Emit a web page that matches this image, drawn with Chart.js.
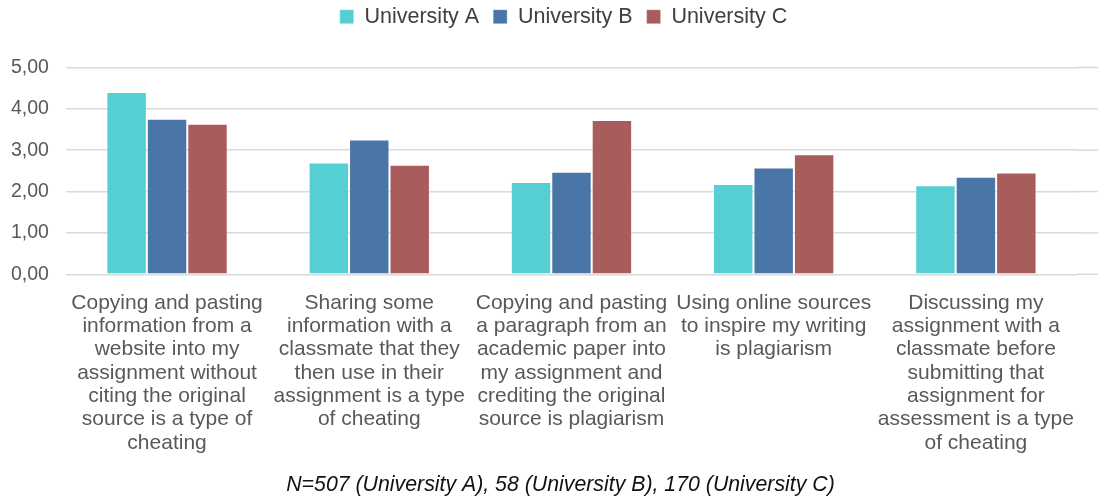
<!DOCTYPE html>
<html>
<head>
<meta charset="utf-8">
<script src="https://cdn.jsdelivr.net/npm/chart.js@4"></script>
<style>
html,body{margin:0;padding:0;background:#fff;}
#wrap{width:1100px;height:502px;position:relative;}
</style>
</head>
<body>
<div id="wrap"><canvas id="c"></canvas></div>
<script>
const categories = [
  ["Copying and pasting","information from a","website into my","assignment without","citing the original","source is a type of","cheating"],
  ["Sharing some","information with a","classmate that they","then use in their","assignment is a type","of cheating"],
  ["Copying and pasting","a paragraph from an","academic paper into","my assignment and","crediting the original","source is plagiarism"],
  ["Using online sources","to inspire my writing","is plagiarism"],
  ["Discussing my","assignment with a","classmate before","submitting that","assignment for","assessment is a type","of cheating"]
];
const seriesNames = ["University A","University B","University C"];
const universityA = [4.41, 2.70, 2.23, 2.18, 2.15];
const universityB = [3.76, 3.26, 2.48, 2.58, 2.36];
const universityC = [3.64, 2.65, 3.73, 2.90, 2.46];
const yTickValues = [0, 1, 2, 3, 4, 5];
const footnote = "N=507 (University A), 58 (University B), 170 (University C)";

const colors = ["#56CFD4", "#4A75A7", "#A95C5C"];
const FONT = "'Liberation Sans', Arial, sans-serif";

const extendGrid = {
  id: 'extendGrid',
  beforeDatasetsDraw(chart) {
    const y = chart.scales.y, ca = chart.chartArea, ctx = chart.ctx;
    ctx.save();
    ctx.strokeStyle = '#d9d9d9';
    ctx.lineWidth = 1.5;
    y.ticks.forEach(t => {
      const py = y.getPixelForValue(t.value);
      ctx.beginPath();
      ctx.moveTo(ca.right, py);
      ctx.lineTo(1098, py);
      ctx.stroke();
    });
    ctx.restore();
  }
};

function shiftBox(box, dx) {
  const draw = box.draw.bind(box);
  box.draw = function () {
    const ctx = this.ctx;
    ctx.save();
    ctx.translate(dx, 0);
    draw();
    ctx.restore();
  };
}

// legend spacing: extra gap below legend; legend and footnote offset like the original
const boxTweak = {
  id: 'boxTweak',
  beforeUpdate(chart) {
    const lg = chart.legend;
    if (lg && !lg._tweaked) {
      lg._tweaked = true;
      const fit = lg.fit.bind(lg);
      lg.fit = function () { fit(); this.height += 30; };
      shiftBox(lg, 28);
    }
    const tb = chart.titleBlock;
    if (tb && !tb._tweaked) {
      tb._tweaked = true;
      shiftBox(tb, 25);
    }
  }
};

new Chart(document.getElementById('c'), {
  type: 'bar',
  data: {
    labels: categories,
    datasets: [universityA, universityB, universityC].map((d, i) => ({
      label: seriesNames[i],
      data: d,
      backgroundColor: colors[i],
      borderColor: 'rgba(255,255,255,0.35)',
      borderWidth: 1,
      barPercentage: 1.0,
      categoryPercentage: 0.6
    }))
  },
  options: {
    responsive: true,
    maintainAspectRatio: false,
    animation: false,
    layout: { autoPadding: false, padding: { left: -6, right: 23, top: -8, bottom: 4 } },
    plugins: {
      legend: {
        position: 'top',
        labels: {
          boxWidth: 14, boxHeight: 14, padding: 14,
          color: '#404040',
          font: { family: FONT, size: 21.5 }
        }
      },
      title: {
        display: true,
        position: 'bottom',
        text: footnote,
        color: '#111',
        padding: { top: 1, bottom: 0 },
        font: { family: FONT, size: 21.3, style: 'italic', weight: 'normal' }
      },
      tooltip: { enabled: false }
    },
    scales: {
      x: {
        grid: { display: false, drawTicks: false },
        border: { display: false },
        ticks: {
          maxRotation: 0, minRotation: 0, autoSkip: false,
          padding: 17,
          color: '#595959',
          font: { family: FONT, size: 21, lineHeight: 1.11 }
        }
      },
      y: {
        min: 0, max: 5,
        afterBuildTicks: (s) => { s.ticks = yTickValues.map(v => ({ value: v })); },
        grid: { color: '#d9d9d9', lineWidth: 1.5, drawTicks: false },
        border: { display: false },
        ticks: {
          padding: 17,
          color: '#595959',
          font: { family: FONT, size: 19.5 },
          callback: (v) => Number(v).toFixed(2).replace('.', ',')
        }
      }
    }
  },
  plugins: [extendGrid, boxTweak]
});
</script>
</body>
</html>
